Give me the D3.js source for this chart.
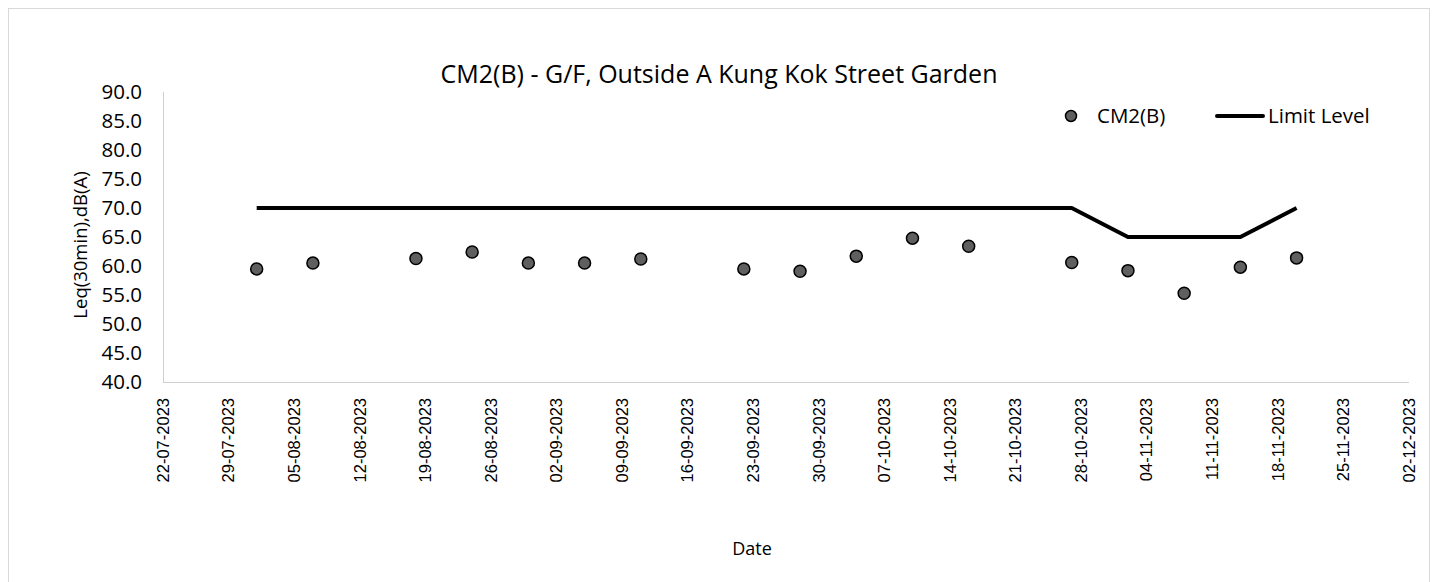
<!DOCTYPE html>
<html>
<head>
<meta charset="utf-8">
<script src="https://cdn.jsdelivr.net/npm/d3@7"></script>
<style>
  html, body { margin: 0; padding: 0; background: #fff; }
  svg { display: block; }
</style>
</head>
<body>
<svg id="chart" width="1439" height="582"></svg>
<script>
// Measurement dates and noise levels at CM2(B)
const dates = ["01-08-2023","07-08-2023","18-08-2023","24-08-2023","30-08-2023","05-09-2023","11-09-2023",
               "22-09-2023","28-09-2023","04-10-2023","10-10-2023","16-10-2023","27-10-2023",
               "02-11-2023","08-11-2023","14-11-2023","20-11-2023"];
const leq = [59.5, 60.5, 61.3, 62.4, 60.5, 60.5, 61.2,
             59.5, 59.1, 61.7, 64.8, 63.4, 60.6,
             59.2, 55.3, 59.8, 61.4];
const limitLevel = [70, 70, 70, 70, 70, 70, 70,
                    70, 70, 70, 70, 70, 70,
                    65, 65, 65, 70];
const yTicks = [40, 45, 50, 55, 60, 65, 70, 75, 80, 85, 90];
const xStart = "22-07-2023", xEnd = "02-12-2023";

const parse = d3.timeParse("%d-%m-%Y");
const fmt = d3.timeFormat("%d-%m-%Y");
const SANS = "'Open Sans', 'Noto Sans', sans-serif";

const svg = d3.select("#chart");
const m = { left: 163, right: 1409, top: 92, bottom: 382 };

// chart frame
svg.append("rect").attr("x", 8.5).attr("y", 8.5).attr("width", 1421).attr("height", 600)
  .attr("fill", "#fff").attr("stroke", "#d9d9d9").attr("stroke-width", 1);

const x = d3.scaleTime().domain([parse(xStart), parse(xEnd)]).range([m.left, m.right]);
const y = d3.scaleLinear().domain([40, 90]).range([m.bottom, m.top]);

// weekly date ticks counted from the axis start
const weekly = d3.range(0, 20).map(i => d3.timeDay.offset(parse(xStart), i * 7)).filter(d => d <= parse(xEnd));

// axis lines
svg.append("line").attr("x1", m.left + 0.5).attr("x2", m.left + 0.5).attr("y1", m.top).attr("y2", m.bottom)
  .attr("stroke", "#d0d0d0").attr("stroke-width", 1);
svg.append("line").attr("x1", m.left).attr("x2", m.right).attr("y1", m.bottom + 0.5).attr("y2", m.bottom + 0.5)
  .attr("stroke", "#d0d0d0").attr("stroke-width", 1);

// y tick labels
svg.append("g").selectAll("text").data(yTicks).join("text")
  .attr("x", 142).attr("y", d => y(d)).attr("dy", "0.36em")
  .attr("text-anchor", "end")
  .attr("font-family", SANS).attr("font-size", 20.5).attr("fill", "#000")
  .text(d => d.toFixed(1));

// x tick labels (rotated)
svg.append("g").selectAll("text").data(weekly).join("text")
  .attr("transform", d => `translate(${x(d)},${m.bottom + 16}) rotate(-90)`)
  .attr("text-anchor", "end").attr("dy", "0.35em")
  .attr("font-family", "'Liberation Sans', Arial, sans-serif").attr("font-size", 16.5).attr("fill", "#000")
  .text(d => fmt(d));

// title
svg.append("text").attr("x", 719).attr("y", 83).attr("text-anchor", "middle")
  .attr("font-family", SANS).attr("font-size", 25).attr("fill", "#000")
  .text("CM2(B) - G/F, Outside A Kung Kok Street Garden");

// axis titles
svg.append("text").attr("x", 752).attr("y", 555).attr("text-anchor", "middle")
  .attr("font-family", SANS).attr("font-size", 18).attr("fill", "#000")
  .text("Date");
svg.append("text").attr("transform", `translate(87,245) rotate(-90)`)
  .attr("text-anchor", "middle")
  .attr("font-family", SANS).attr("font-size", 18.5).attr("fill", "#000")
  .text("Leq(30min),dB(A)");

// limit level line
const limitData = dates.map((d, i) => ({ d: parse(d), v: limitLevel[i] }));
svg.append("path").datum(limitData)
  .attr("d", d3.line().x(p => x(p.d)).y(p => y(p.v)))
  .attr("fill", "none").attr("stroke", "#000").attr("stroke-width", 4).attr("stroke-linejoin", "round");

// measured points
const ptData = dates.map((d, i) => ({ d: parse(d), v: leq[i] }));
svg.append("g").selectAll("circle").data(ptData).join("circle")
  .attr("cx", p => x(p.d)).attr("cy", p => y(p.v)).attr("r", 6)
  .attr("fill", "#5f5f5f").attr("stroke", "#000").attr("stroke-width", 1.5);

// legend
const lg = svg.append("g");
lg.append("circle").attr("cx", 1071).attr("cy", 116).attr("r", 5.5)
  .attr("fill", "#5f5f5f").attr("stroke", "#000").attr("stroke-width", 1.5);
lg.append("text").attr("x", 1097).attr("y", 116).attr("dy", "0.36em")
  .attr("font-family", SANS).attr("font-size", 20.5).attr("fill", "#000")
  .text("CM2(B)");
lg.append("line").attr("x1", 1217).attr("x2", 1263).attr("y1", 116).attr("y2", 116)
  .attr("stroke", "#000").attr("stroke-width", 4).attr("stroke-linecap", "round");
lg.append("text").attr("x", 1268).attr("y", 116).attr("dy", "0.36em")
  .attr("font-family", SANS).attr("font-size", 20.5).attr("fill", "#000")
  .text("Limit Level");
</script>
</body>
</html>
